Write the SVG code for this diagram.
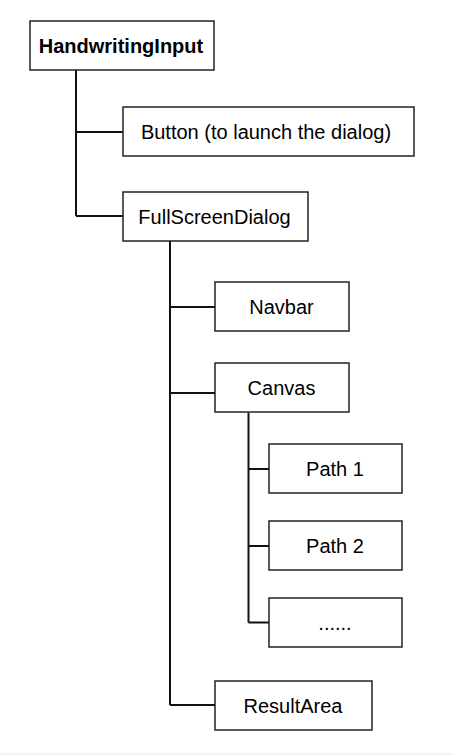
<svg xmlns="http://www.w3.org/2000/svg" width="452" height="755" viewBox="0 0 452 755">
<style>
.box{fill:#fff;stroke:#222;stroke-width:1.5}
.lbl{font-family:"Liberation Sans",Arial,sans-serif;font-size:20px;fill:#000;text-anchor:middle}
.bold{font-weight:bold}
.conn{fill:none;stroke:#111;stroke-width:2}
</style>
<rect x="0" y="0" width="452" height="755" fill="#fff"/>
<rect x="0" y="753" width="452" height="2" fill="#f4f4f4"/>
<g id="connectors">
<path class="conn" d="M76 70 V216 M76 132 H123 M76 216 H123"/>
<path class="conn" d="M170 241 V705 M170 307 H215 M170 393 H215 M170 705 H215"/>
<path class="conn" d="M248.5 413 V622.5 M248.5 469 H269 M248.5 546 H269 M248.5 622.5 H269"/>
</g>
<g id="HandwritingInput"><rect class="box" x="30" y="21" width="184" height="49"/><text class="lbl bold" x="121" y="52.5">HandwritingInput</text></g>
<g id="Button"><rect class="box" x="123" y="107" width="291" height="49"/><text class="lbl" x="266" y="138.5">Button (to launch the dialog)</text></g>
<g id="FullScreenDialog"><rect class="box" x="123" y="192" width="185" height="49"/><text class="lbl" x="214.5" y="223.5">FullScreenDialog</text></g>
<g id="Navbar"><rect class="box" x="215" y="282" width="134" height="49"/><text class="lbl" x="281.5" y="313.5">Navbar</text></g>
<g id="Canvas"><rect class="box" x="215" y="363" width="134" height="49"/><text class="lbl" x="281.5" y="394.5">Canvas</text></g>
<g id="Path1"><rect class="box" x="269" y="444" width="133" height="49"/><text class="lbl" x="335" y="475.5">Path 1</text></g>
<g id="Path2"><rect class="box" x="269" y="521" width="133" height="49"/><text class="lbl" x="335" y="552.5">Path 2</text></g>
<g id="PathMore"><rect class="box" x="269" y="598" width="133" height="49"/><text class="lbl" x="335" y="629.5">......</text></g>
<g id="ResultArea"><rect class="box" x="215" y="681" width="157" height="49"/><text class="lbl" x="293" y="712.5">ResultArea</text></g>
</svg>
